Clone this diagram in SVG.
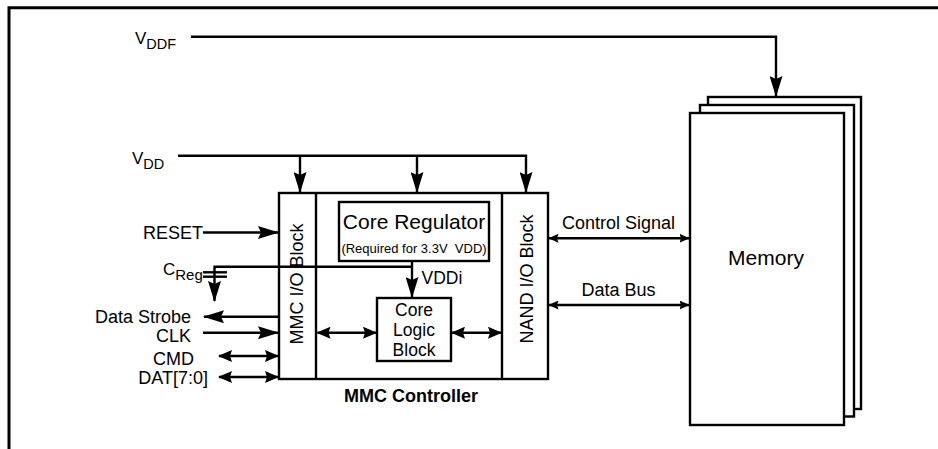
<svg xmlns="http://www.w3.org/2000/svg" width="938" height="449" viewBox="0 0 938 449">
<style>
text{font-family:"Liberation Sans",Arial,sans-serif;fill:#000}
.l{font-size:18px}
.big{font-size:21px}
.cl{font-size:17.5px}
.ln{fill:none;stroke:#000;stroke-width:2.4}
.box{fill:#fff;stroke:#000;stroke-width:2.4}
</style>
<defs>
<marker id="ab" markerUnits="userSpaceOnUse" markerWidth="21" markerHeight="13" viewBox="0 0 21 13" refX="20" refY="6.5" orient="auto-start-reverse">
<path d="M0,0 L21,6.5 L0,13 L3,6.5 z" fill="#000"/>
</marker>
<marker id="am" markerUnits="userSpaceOnUse" markerWidth="14" markerHeight="12" viewBox="0 0 14 12" refX="13" refY="6" orient="auto-start-reverse">
<path d="M0,0 L14,6 L0,12 L2,6 z" fill="#000"/>
</marker>
<marker id="as" markerUnits="userSpaceOnUse" markerWidth="10" markerHeight="9" viewBox="0 0 10 9" refX="9.5" refY="4.5" orient="auto-start-reverse">
<path d="M0,0 L10,4.5 L0,9 L1.5,4.5 z" fill="#000"/>
</marker>
</defs>

<path d="M9,449 V7.7 H938" fill="none" stroke="#000" stroke-width="3"/>

<g id="memory">
<rect class="box" x="708" y="97" width="153" height="312"/>
<rect class="box" x="700" y="105" width="154" height="311.5"/>
<rect class="box" x="690" y="113" width="154" height="312"/>
<text class="big" x="766" y="265" text-anchor="middle">Memory</text>
</g>

<g id="mmc-controller">
<rect class="box" x="279" y="193" width="269" height="186"/>
<line class="ln" x1="316" y1="193" x2="316" y2="379"/>
<line class="ln" x1="502" y1="193" x2="502" y2="379"/>
<text class="l" font-weight="bold" x="411" y="401.5" text-anchor="middle">MMC Controller</text>
</g>

<g id="mmc-io">
<text class="l" font-size="18.5px" transform="translate(303,284) rotate(-90)" text-anchor="middle">MMC I/O Block</text>
</g>

<g id="nand-io">
<text class="l" font-size="18.5px" transform="translate(533,279) rotate(-90)" text-anchor="middle">NAND I/O Block</text>
</g>

<g id="core-regulator">
<rect class="box" x="339" y="202" width="150" height="59"/>
<text class="big" x="414" y="229" text-anchor="middle">Core Regulator</text>
<text x="414" y="252.5" font-size="13px" text-anchor="middle" xml:space="preserve">(Required for 3.3V  VDD)</text>
</g>

<g id="core-logic">
<rect class="box" x="377" y="298" width="74" height="63"/>
<text class="cl" x="414" y="315.5" text-anchor="middle">Core</text>
<text class="cl" x="414" y="335.5" text-anchor="middle">Logic</text>
<text class="cl" x="414" y="355.5" text-anchor="middle">Block</text>
</g>

<g id="labels">
<text x="135" y="43.5" font-size="17px">V<tspan font-size="14.5px" dy="5">DDF</tspan></text>
<text x="132" y="163.5" font-size="17px">V<tspan font-size="14.5px" dy="5">DD</tspan></text>
<text class="l" x="203" y="239" text-anchor="end">RESET</text>
<text x="163" y="275" font-size="17px">C<tspan font-size="15px" dy="5">Reg</tspan></text>
<text class="l" x="191" y="323" text-anchor="end">Data Strobe</text>
<text class="l" x="191" y="342" text-anchor="end">CLK</text>
<text class="l" x="194" y="365" text-anchor="end">CMD</text>
<text class="l" x="208" y="384" text-anchor="end">DAT[7:0]</text>
<text x="421.5" y="284" font-size="17.5px">VDDi</text>
<text class="l" x="618.5" y="229" text-anchor="middle">Control Signal</text>
<text class="l" x="618.5" y="296" text-anchor="middle">Data Bus</text>
</g>

<g id="connectors">
<path class="ln" d="M191,36.7 H776 V96" marker-end="url(#ab)"/>
<path class="ln" d="M178,155.7 H526 V192" marker-end="url(#ab)"/>
<line class="ln" x1="300" y1="155.7" x2="300" y2="192" marker-end="url(#ab)"/>
<line class="ln" x1="417" y1="155.7" x2="417" y2="192" marker-end="url(#ab)"/>
<line class="ln" x1="203" y1="232.5" x2="278" y2="232.5" marker-end="url(#ab)"/>
<line class="ln" x1="412" y1="261" x2="412" y2="297" marker-end="url(#ab)"/>
<path class="ln" d="M412,266.7 H214.5 V301" marker-end="url(#ab)"/>
<line class="ln" x1="203" y1="272.3" x2="227" y2="272.3"/>
<line class="ln" x1="203" y1="276.7" x2="227" y2="276.7"/>
<line class="ln" x1="279" y1="316.7" x2="204" y2="316.7" marker-end="url(#ab)"/>
<line class="ln" x1="203" y1="332.7" x2="278" y2="332.7" marker-end="url(#ab)"/>
<line class="ln" x1="219" y1="356" x2="278" y2="356" marker-start="url(#am)" marker-end="url(#am)"/>
<line class="ln" x1="219" y1="377" x2="278" y2="377" marker-start="url(#am)" marker-end="url(#am)"/>
<line class="ln" x1="317.5" y1="332.7" x2="376" y2="332.7" marker-start="url(#am)" marker-end="url(#am)"/>
<line class="ln" x1="452" y1="332.7" x2="501" y2="332.7" marker-start="url(#am)" marker-end="url(#am)"/>
<line class="ln" x1="549" y1="238.3" x2="689" y2="238.3" marker-start="url(#as)" marker-end="url(#as)"/>
<line class="ln" x1="549" y1="305" x2="689" y2="305" marker-start="url(#as)" marker-end="url(#as)"/>
</g>
</svg>
